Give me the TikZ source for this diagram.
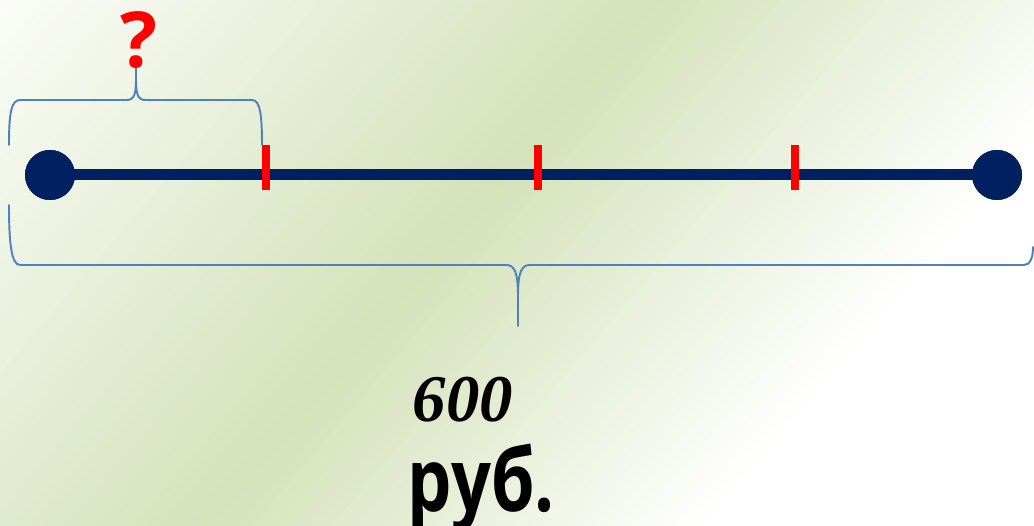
\documentclass[tikz,border=0pt]{standalone}
\usepackage{fontspec}
\usetikzlibrary{positioning,calc}
\newfontfamily\labelfont{Open Sans}
\newfontfamily\numfont{Liberation Serif}
\definecolor{bggreen}{RGB}{213,226,186}
\definecolor{segnavy}{RGB}{0,32,96}
\definecolor{braceblue}{RGB}{79,129,189}

\begin{document}
\begin{tikzpicture}[
  x=0.02cm, y=0.02cm,
  dot/.style={circle, fill=segnavy, minimum size=1cm, inner sep=0pt},
  tickmark/.style={rectangle, fill=red, minimum width=0.16cm, minimum height=0.9cm, inner sep=0pt},
  seg/.style={draw=segnavy, line width=0.22cm},
  brace/.style={draw=braceblue, line width=1.1pt, line cap=round},
]
\useasboundingbox (0,0) rectangle (1034,526);

% Background (diagonal green band)
\begin{scope}
  \clip (0,0) rectangle (1034,526);
  \coordinate (bandmid) at (424,263);
  \foreach \d in {-800,-790,...,800} {
    \pgfmathsetmacro\pct{\d<0 ? max(0,100+\d/5.5) : max(0,100-\d/3.8)}
    \fill[bggreen!\pct!white]
      ($(bandmid)+\d*(0.76,-0.65)-(650,760)$) -- ($(bandmid)+\d*(0.76,-0.65)+(650,760)$)
      -- ($(bandmid)+\d*(0.76,-0.65)+(8.36,-7.15)+(650,760)$)
      -- ($(bandmid)+\d*(0.76,-0.65)+(8.36,-7.15)-(650,760)$) -- cycle;
  }
\end{scope}

% Segment with end points
\node[dot] (left)  at (50,351)  {};
\node[dot] (right) at (997,351) {};
\draw[seg] (left.center) -- (right.center);
\node[dot] at (left)  {};
\node[dot] at (right) {};

% Division marks
\foreach \x/\n in {266/t1, 538/t2, 795/t3}
  \node[tickmark] (\n) at (\x,358.5) {};

% Upper brace
\coordinate (ua) at (9,381);
\coordinate (ub) at (136,458);
\coordinate (uc) at (262,381);
\draw[brace] (ua) .. controls (9,412) and (11,426) .. (20,426)
  -- (127,426) .. controls (134,426) and (136,432) .. (136,446) -- (ub)
  (ub) -- (136,446) .. controls (136,432) and (138,426) .. (145,426)
  -- (252,426) .. controls (260,426) and (262,412) .. (uc);

% Lower brace
\coordinate (la) at (9,321);
\coordinate (lb) at (518,200);
\coordinate (lc) at (1033,279);
\draw[brace] (la) .. controls (9,285) and (11,261) .. (20,261)
  -- (506,261) .. controls (514,261) and (518,255) .. (518,230) -- (lb)
  (lb) -- (518,230) .. controls (518,255) and (522,261) .. (530,261)
  -- (1024,261) .. controls (1030,261) and (1033,268) .. (lc);

% Labels
\node[text=red, font={\labelfont\bfseries\fontsize{44}{44}\selectfont}, inner sep=0pt] (qmark) at (139,486) {?};
\node[font={\numfont\bfseries\itshape\fontsize{38}{38}\selectfont}, inner sep=0pt] (sum) at (463,126) {600};
\node[font={\labelfont\bfseries\fontsize{50}{50}\selectfont}, anchor=base, xscale=0.8, inner sep=0pt] (unit) at (481,14) {руб.};
\end{tikzpicture}
\end{document}
